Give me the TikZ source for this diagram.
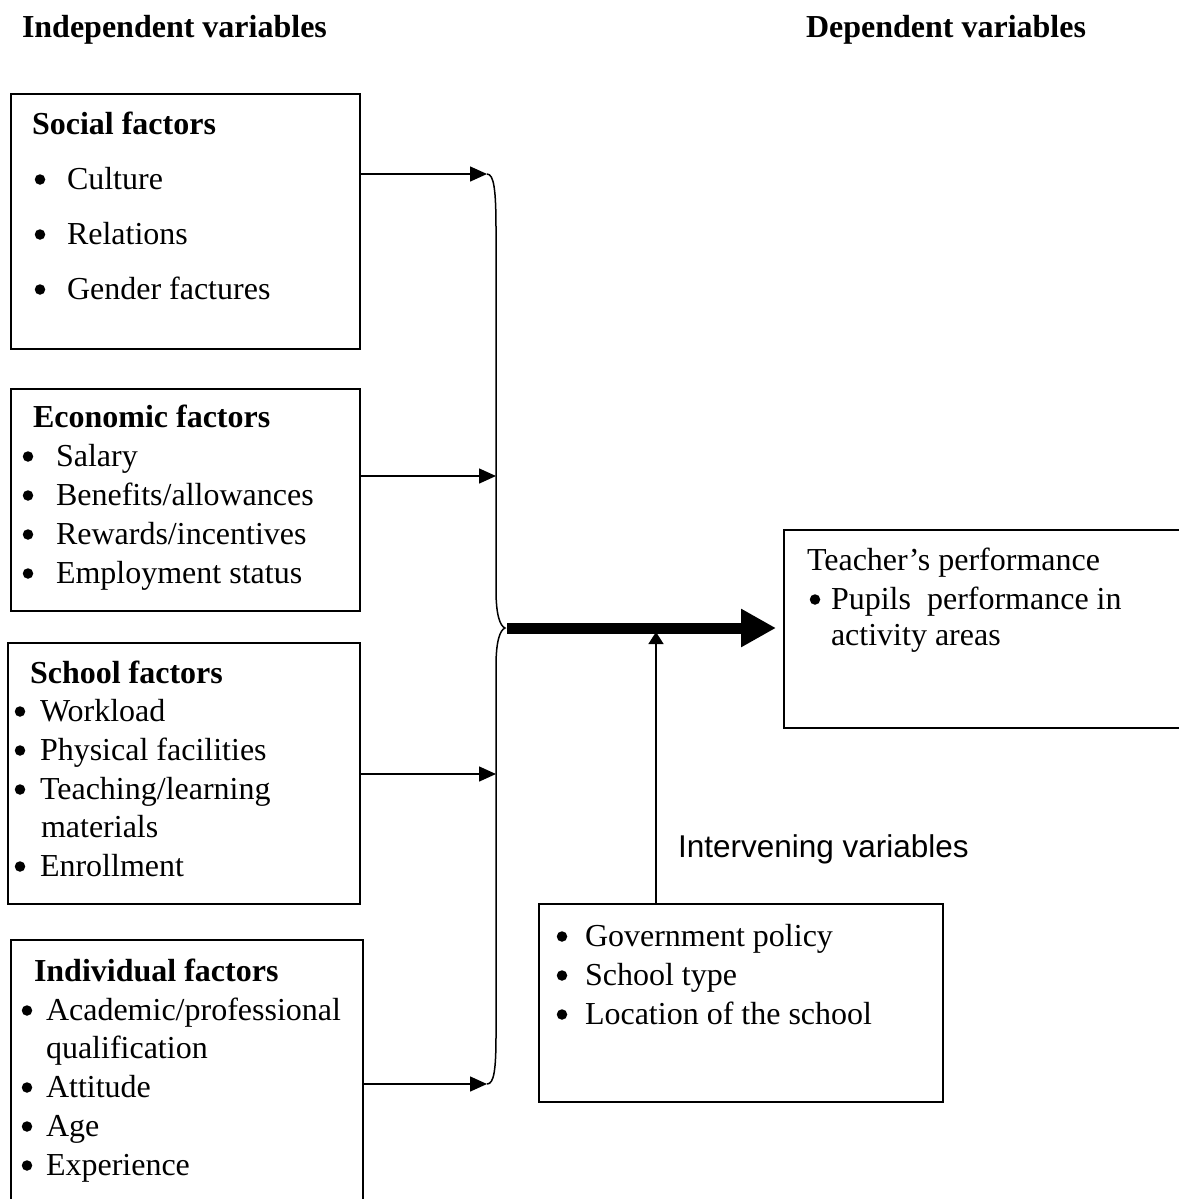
\documentclass[tikz,border=0pt]{standalone}
\usepackage{fontspec}
\setmainfont{Liberation Serif}
\newfontfamily\arialfont{Liberation Sans}
\usetikzlibrary{arrows.meta}
\begin{document}
\begin{tikzpicture}[x=1pt,y=-1pt,
  every node/.style={inner sep=0pt, outer sep=0pt, font=\fontsize{32}{38}\selectfont},
  box/.style={draw, line width=1.5pt, rectangle},
  frame/.style={rectangle},
  txt/.style={anchor=base west},
  hd/.style={anchor=base west, font=\fontsize{32}{38}\selectfont\bfseries},
  bul/.style={circle, fill=black, draw=none, minimum size=10.5pt, anchor=center, yshift=9.5pt},
  arr/.style={line width=1.5pt, -{Triangle[length=17pt,width=15pt]}},
  bigarr/.style={line width=11pt, -{Triangle[length=35pt,width=36pt]}},
  upar/.style={line width=1.5pt, -{Triangle[length=12pt,width=15pt]}},
  brace/.style={line width=1.5pt},
]
\useasboundingbox (0,0) rectangle (1178,1199);

% titles
\node[hd] (tind) at (22,38) {Independent variables};
\node[hd] (tdep) at (806,38) {Dependent variables};

% boxes
\node[box, minimum width=349pt, minimum height=255pt] (social) at (185.5,221.5) {};
\node[box, minimum width=349pt, minimum height=222pt] (econ) at (185.5,500) {};
\node[box, minimum width=352pt, minimum height=261pt] (school) at (184,773.5) {};
\node[frame, minimum width=352pt, minimum height=264pt] (indiv) at (187,1072) {};
\draw[line width=1.5pt] (indiv.south west) -- (indiv.north west) -- (indiv.north east) -- (indiv.south east);
\node[frame, minimum width=398pt, minimum height=198pt] (teacher) at (983,629) {};
\draw[line width=1.5pt] (teacher.north east) -- (teacher.north west) -- (teacher.south west) -- (teacher.south east);
\node[box, minimum width=404pt, minimum height=198pt] (gov) at (741,1003) {};

% social text
\node[hd] (sh) at (32,134) {Social factors};
\node[bul] (sb1) at (40,189) {};
\node[txt] (st1) at (67,189) {Culture};
\node[bul] (sb2) at (40,244) {};
\node[txt] (st2) at (67,244) {Relations};
\node[bul] (sb3) at (40,299) {};
\node[txt] (st3) at (67,299) {Gender factures};

% economic text
\node[hd] (eh) at (33,427) {Economic factors};
\node[bul] (eb1) at (28,466) {};
\node[txt] (et1) at (56,466) {Salary};
\node[bul] (eb2) at (28,505) {};
\node[txt] (et2) at (56,505) {Benefits/allowances};
\node[bul] (eb3) at (28,544) {};
\node[txt] (et3) at (56,544) {Rewards/incentives};
\node[bul] (eb4) at (28,583) {};
\node[txt] (et4) at (56,583) {Employment status};

% school text
\node[hd] (kh) at (30,683) {School factors};
\node[bul] (kb1) at (20,721) {};
\node[txt] (kt1) at (40,721) {Workload};
\node[bul] (kb2) at (20,760) {};
\node[txt] (kt2) at (40,760) {Physical facilities};
\node[bul] (kb3) at (20,799) {};
\node[txt] (kt3) at (40,799) {Teaching/learning};
\node[txt] (kt3b) at (41,837) {materials};
\node[bul] (kb4) at (20,876) {};
\node[txt] (kt4) at (40,876) {Enrollment};

% individual text
\node[hd] (ih) at (34,981) {Individual factors};
\node[bul] (ib1) at (27,1020) {};
\node[txt] (it1) at (46,1020) {Academic/professional};
\node[txt] (it1b) at (46,1058) {qualification};
\node[bul] (ib2) at (27,1097) {};
\node[txt] (it2) at (46,1097) {Attitude};
\node[bul] (ib3) at (27,1136) {};
\node[txt] (it3) at (46,1136) {Age};
\node[bul] (ib4) at (27,1175) {};
\node[txt] (it4) at (46,1175) {Experience};

% teacher text
\node[txt] (th) at (807,570) {Teacher’s performance};
\node[bul] (tb1) at (815,609) {};
\node[txt] (tt1) at (831,609) {Pupils\hspace{0.5em}performance in};
\node[txt] (tt1b) at (831,645) {activity areas};

% intervening
\node[txt, font=\fontsize{31.5}{38}\arialfont] (iv) at (678,857) {Intervening variables};
\node[bul] (gb1) at (562,946) {};
\node[txt] (gt1) at (585,946) {Government policy};
\node[bul] (gb2) at (562,985) {};
\node[txt] (gt2) at (585,985) {School type};
\node[bul] (gb3) at (562,1024) {};
\node[txt] (gt3) at (585,1024) {Location of the school};

% brace
\coordinate (c1) at (487,174);
\coordinate (c2) at (496,476);
\coordinate (mid) at (505,628);
\coordinate (c3) at (496,774);
\coordinate (c4) at (487,1084);
\draw[brace] (c1) .. controls (494,174) and (496,190) .. (496,230) -- (496,590)
  .. controls (496,615) and (500,626) .. (mid)
  .. controls (500,630) and (496,641) .. (496,666) -- (496,1035)
  .. controls (496,1070) and (494,1084) .. (c4);

% arrows into brace
\draw[arr] (social.east |- c1) -- (c1);
\draw[arr] (econ.east |- c2) -- (c2);
\draw[arr] (school.east |- c3) -- (c3);
\draw[arr] (indiv.east |- c4) -- (c4);

% thick arrow
\coordinate (bstart) at (507,628);
\draw[bigarr, shorten >=8pt] (bstart) -- (teacher.west |- bstart);

% intervening arrow
\coordinate (ivtop) at (656,632);
\draw[upar] (gov.north -| ivtop) -- (ivtop);
\end{tikzpicture}
\end{document}
